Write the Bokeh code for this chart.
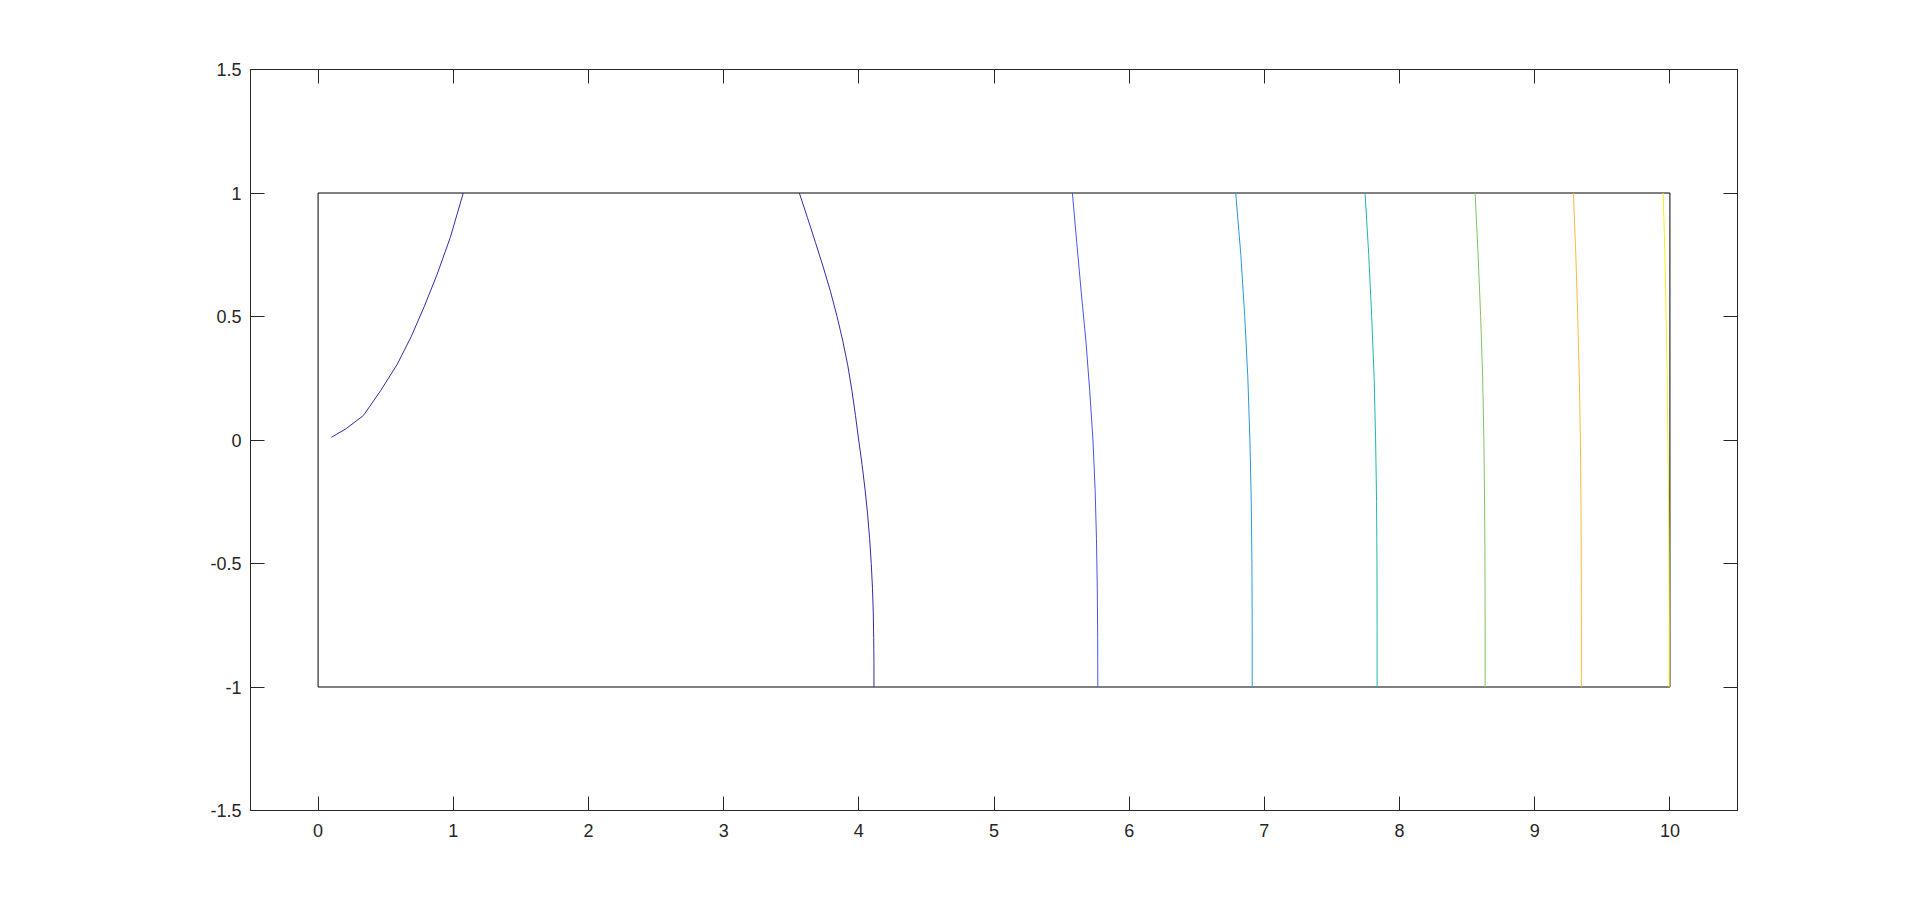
from bokeh.plotting import figure
from bokeh.models import ColumnDataSource, LinearAxis, FixedTicker, Range1d
from bokeh.embed import file_html
from bokeh.resources import INLINE

# ---- data ----
x_ticks = [0, 1, 2, 3, 4, 5, 6, 7, 8, 9, 10]
x_tick_labels = ["0", "1", "2", "3", "4", "5", "6", "7", "8", "9", "10"]
y_ticks = [-1.5, -1.0, -0.5, 0.0, 0.5, 1.0, 1.5]
y_tick_labels = ["-1.5", "-1", "-0.5", "0", "0.5", "1", "1.5"]

domain_x = [0, 10, 10, 0, 0]
domain_y = [-1, -1, 1, 1, -1]

c1_x = [0.099, 0.205, 0.335, 0.463, 0.587, 0.690, 0.785, 0.880, 0.978, 1.074]
c1_y = [0.011, 0.045, 0.099, 0.200, 0.308, 0.420, 0.540, 0.670, 0.820, 1.000]

c2_y = [1.0, 0.9, 0.8, 0.7, 0.6, 0.5, 0.4, 0.3, 0.2, 0.1, 0.0,
        -0.1, -0.2, -0.3, -0.4, -0.5, -0.6, -0.7, -0.8, -0.9, -1.0]
c2_x = [3.560, 3.620, 3.679, 3.737, 3.791, 3.839, 3.882, 3.919, 3.949, 3.975, 3.999,
        4.024, 4.046, 4.065, 4.080, 4.092, 4.101, 4.107, 4.110, 4.112, 4.112]

c3_y = [1.0, 0.8, 0.6, 0.4, 0.2, 0.0, -0.2, -0.4, -0.6, -0.8, -1.0]
c3_x = [5.580, 5.612, 5.645, 5.680, 5.708, 5.732, 5.748, 5.758, 5.764, 5.767, 5.768]

lvl_y = [1.0, 0.75, 0.5, 0.25, 0.0, -0.25, -0.5, -0.75, -1.0]
c4_x = [6.788, 6.826, 6.855, 6.878, 6.893, 6.903, 6.908, 6.910, 6.910]
c5_x = [7.745, 7.772, 7.794, 7.812, 7.823, 7.830, 7.833, 7.834, 7.834]
c6_x = [8.559, 8.581, 8.600, 8.615, 8.624, 8.629, 8.632, 8.633, 8.633]
c7_x = [9.286, 9.304, 9.318, 9.330, 9.338, 9.342, 9.344, 9.345, 9.345]
c8_x = [9.950, 9.963, 9.972, 9.980, 9.985, 9.990, 9.993, 9.995, 9.995]

contour_colors = ["#3e26a8", "#3e26a8", "#4657e6", "#2b97e2",
                  "#1eb6b0", "#82c360", "#f7ba3d", "#f5ef22"]

# ---- figure ----
p = figure(width=1904, height=895, output_backend="svg", toolbar_location=None,
           x_range=Range1d(-0.5, 10.5), y_range=Range1d(-1.5, 1.5),
           min_border_left=250, min_border_right=167,
           min_border_top=69, min_border_bottom=85,
           x_axis_location=None, y_axis_location=None)
p.grid.visible = False
p.outline_line_color = "#262626"
p.outline_line_width = 1
p.background_fill_color = "white"
p.border_fill_color = "white"

xlab = dict(zip(x_ticks, x_tick_labels))
ylab = dict(zip(y_ticks, y_tick_labels))

def style(ax, labels, show):
    ax.major_tick_in = 14
    ax.major_tick_out = 0
    ax.minor_tick_line_color = None
    ax.axis_line_color = "#262626"
    ax.major_tick_line_color = "#262626"
    ax.major_label_text_font = "Liberation Sans"
    ax.major_label_text_font_size = "18px"
    ax.major_label_text_color = "#262626" if show else None
    ax.major_label_overrides = labels

bx = LinearAxis(ticker=FixedTicker(ticks=x_ticks))
style(bx, xlab, True)
bx.major_label_standoff = 13
p.add_layout(bx, "below")

tx = LinearAxis(ticker=FixedTicker(ticks=x_ticks))
style(tx, xlab, False)
tx.major_label_standoff = 0
p.add_layout(tx, "above")

ly = LinearAxis(ticker=FixedTicker(ticks=y_ticks))
style(ly, ylab, True)
ly.major_label_standoff = 9
p.add_layout(ly, "left")

ry = LinearAxis(ticker=FixedTicker(ticks=y_ticks))
style(ry, ylab, False)
ry.major_label_standoff = 0
p.add_layout(ry, "right")

# domain rectangle
p.line(domain_x, domain_y, line_color="black", line_width=1)

src = ColumnDataSource(dict(
    xs=[c1_x, c2_x, c3_x, c4_x, c5_x, c6_x, c7_x, c8_x],
    ys=[c1_y, c2_y, c3_y, lvl_y, lvl_y, lvl_y, lvl_y, lvl_y],
    color=contour_colors,
))
p.multi_line(xs="xs", ys="ys", line_color="color", line_width=1, source=src)

open("out.html", "w").write(file_html(p, INLINE))
